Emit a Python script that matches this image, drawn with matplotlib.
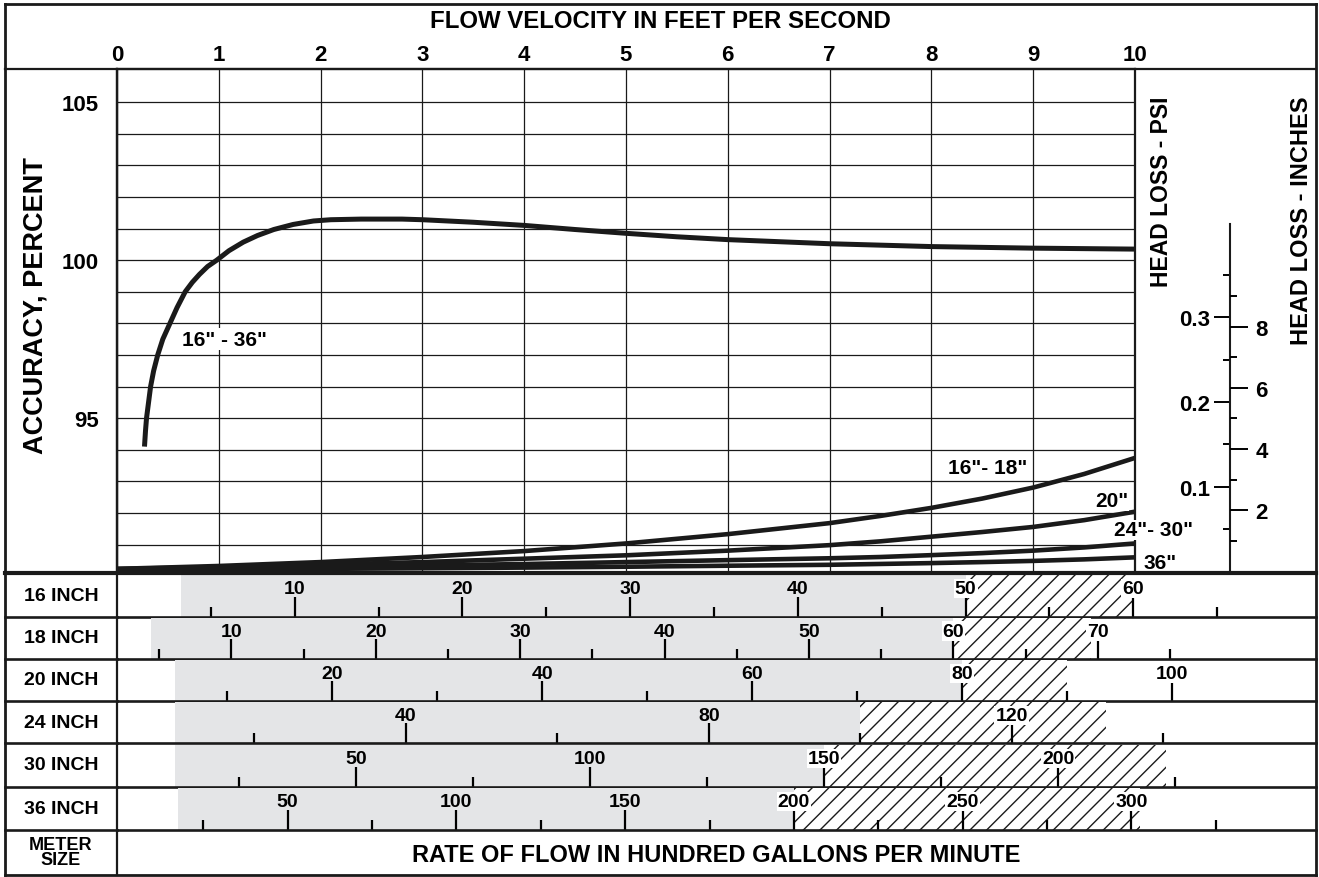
import numpy as np
import matplotlib
matplotlib.use('Agg')
import matplotlib.pyplot as plt
from matplotlib.lines import Line2D

plt.rcParams['font.family'] = ['Liberation Sans Narrow', 'Liberation Sans', 'DejaVu Sans']
plt.rcParams['font.weight'] = 'bold'
plt.rcParams['hatch.linewidth'] = 1.0

W, H = 1319, 878

# ---- data ----
velocity_ticks = list(range(0, 11))
accuracy_major = [95, 100, 105]
accuracy_minor = list(range(91, 106))

# accuracy curve, 16" - 36"
acc_v = [0.27, 0.28, 0.29, 0.31, 0.33, 0.36, 0.40, 0.45, 0.52, 0.59, 0.67, 0.74, 0.81, 0.89,
         0.98, 1.1, 1.24, 1.38, 1.54, 1.73, 1.93, 2.1, 2.4, 2.8, 3.0, 3.5, 4.0, 4.5,
         5.0, 5.5, 6.0, 7.0, 8.0, 9.0, 10.0]
acc_pct = [94.1, 94.6, 95.0, 95.5, 96.0, 96.5, 97.0, 97.5, 98.0, 98.5, 99.0, 99.3, 99.55, 99.8,
           100.0, 100.3, 100.57, 100.78, 100.97, 101.13, 101.24, 101.28, 101.3, 101.3, 101.28, 101.2, 101.1, 100.97,
           100.85, 100.74, 100.65, 100.52, 100.43, 100.38, 100.35]

# head loss curves (psi)
hl_v = [0, 1, 2, 3, 4, 5, 6, 7, 7.5, 8, 8.5, 9, 9.5, 10]
hl_16_18 = [0.003, 0.0064, 0.011, 0.017, 0.024, 0.033, 0.044, 0.057, 0.0655, 0.075, 0.086, 0.099, 0.115, 0.134]
hl_20 = [0.003, 0.005, 0.008, 0.011, 0.015, 0.019, 0.0245, 0.031, 0.0355, 0.041, 0.0465, 0.0525, 0.0605, 0.0705]
hl_24_30 = [0.002, 0.004, 0.005, 0.007, 0.0087, 0.011, 0.0133, 0.0155, 0.017, 0.0192, 0.0216, 0.0245, 0.0283, 0.033]
hl_36 = [0.002, 0.0025, 0.003, 0.0037, 0.0045, 0.0055, 0.0067, 0.0078, 0.0088, 0.0098, 0.011, 0.0124, 0.0142, 0.0166]

psi_major = [0.1, 0.2, 0.3]
psi_minor = [0.05, 0.15, 0.25, 0.35]
inch_major = [2, 4, 6, 8]
inch_minor = [1, 3, 5, 7, 9]
PSI_PER_INCH = 0.036127

meter_sizes = ['16 INCH', '18 INCH', '20 INCH', '24 INCH', '30 INCH', '36 INCH']
# flow scale (hundred gpm) at left and right edge of the table
flow_left = [-0.6, 2.08, -0.51, 1.85, -1.07, -0.56]
flow_right = [70.9, 85.1, 113.7, 160.2, 255.1, 354.7]
major_ticks = [[10, 20, 30, 40, 50, 60],
               [10, 20, 30, 40, 50, 60, 70],
               [20, 40, 60, 80, 100],
               [40, 80, 120],
               [50, 100, 150, 200],
               [50, 100, 150, 200, 250, 300]]
minor_ticks = [[5, 15, 25, 35, 45, 55, 65],
               [5, 15, 25, 35, 45, 55, 65, 75],
               [10, 30, 50, 70, 90],
               [20, 60, 100, 140],
               [25, 75, 125, 175, 225],
               [25, 75, 125, 175, 225, 275, 325]]
grey_start = [3.2, 4.4, 5.0, 9.5, 11.3, 17.5]
hatch_start = [50, 60, 80, 100, 150, 200]
hatch_end = [60, 69.5, 90, 132.5, 223, 302.5]

# ---- layout (pixels) ----
row_edges = [575, 617.7, 660, 702, 744.3, 787.7, 831]
X0, XV, X10, XR = 5, 117, 1135, 1316
YT, YH, YP, YB = 5, 70, 572.4, 875.5
INK = '#1a1a1a'
GREY = '#e4e5e7'


def box(x0, y0, x1, y1):
    return [x0 / W, 1 - y1 / H, (x1 - x0) / W, (y1 - y0) / H]


def fline(xs, ys, lw):
    fig.add_artist(Line2D([x / W for x in xs], [1 - y / H for y in ys],
                          color=INK, lw=lw, solid_capstyle='projecting'))


fig = plt.figure(figsize=(W / 100, H / 100), dpi=100)

# ---- main accuracy plot ----
ax = fig.add_axes(box(XV, YH, X10, YP))
ax.set_xlim(0, 10)
ax.set_ylim(90.15, 106.05)
ax.set_xticks(velocity_ticks)
ax.xaxis.tick_top()
ax.tick_params(axis='x', length=0, pad=3, labelsize=16)
ax.set_yticks(accuracy_major)
ax.set_yticks(accuracy_minor, minor=True)
ax.tick_params(axis='y', which='both', length=0, pad=13, labelsize=16)
ax.grid(True, which='both', color=INK, lw=0.9)
ax.set_axisbelow(True)
for s in ['left', 'right', 'top']:
    ax.spines[s].set_linewidth(1.6)
    ax.spines[s].set_color(INK)
ax.spines['bottom'].set_visible(False)
ax.plot(acc_v, acc_pct, color=INK, lw=3.6, solid_capstyle='butt', solid_joinstyle='round', zorder=3)
ax.text(1.06, 97.5, '16" - 36"', fontsize=15, ha='center', va='center',
        bbox=dict(facecolor='white', edgecolor='none', pad=1), zorder=4)

# head loss curves on psi scale
ax2 = ax.twinx()
ax2.set_ylim(0, (YP - YH) / 847)
ax2.axis('off')
for ys in [hl_16_18, hl_20, hl_24_30, hl_36]:
    ax2.plot(hl_v, ys, color=INK, lw=3.3, solid_capstyle='butt', solid_joinstyle='round', zorder=3)
lab_kw = dict(fontsize=15, ha='center', va='center', zorder=5, clip_on=False,
              bbox=dict(facecolor='white', edgecolor='none', pad=0.5))
ax2.text(8.55, 0.123, '16"- 18"', **lab_kw)
ax2.text(9.77, 0.0835, '20"', **lab_kw)
ax2.text(10.18, 0.049, '24"- 30"', **lab_kw)
ax2.text(10.25, 0.011, '36"', **lab_kw)

# ---- head loss scales ----
top_psi = (YP - 225) / 847
axp = fig.add_axes(box(1230, 225, 1230.3, YP))
axp.set_ylim(0, top_psi)
axp.set_xticks([])
for s in ['right', 'top', 'bottom']:
    axp.spines[s].set_visible(False)
axp.spines['left'].set_linewidth(1.5)
axp.spines['left'].set_color(INK)
axp.set_yticks(psi_major)
axp.set_yticklabels(['0.1', '0.2', '0.3'])
axp.set_yticks(psi_minor, minor=True)
axp.tick_params(axis='y', which='major', direction='out', length=11.5, width=1.4, pad=3, labelsize=16)
axp.tick_params(axis='y', which='minor', direction='out', length=5, width=1.4)
axp.patch.set_visible(False)

axi = axp.twinx()
axi.set_ylim(0, top_psi / PSI_PER_INCH)
for s in ['left', 'top', 'bottom', 'right']:
    axi.spines[s].set_visible(False)
axi.set_yticks(inch_major)
axi.set_yticks(inch_minor, minor=True)
axi.tick_params(axis='y', which='major', direction='out', length=13, width=1.4, pad=5, labelsize=16)
axi.tick_params(axis='y', which='minor', direction='out', length=5, width=1.4)

fig.text(1161.7 / W, 1 - 192 / H, 'HEAD LOSS - PSI', rotation=90, ha='center', va='center', fontsize=16.5)
fig.text(1301.7 / W, 1 - 221 / H, 'HEAD LOSS - INCHES', rotation=90, ha='center', va='center', fontsize=17)

# ---- meter size table ----
for i, name in enumerate(meter_sizes):
    y0, y1 = row_edges[i], row_edges[i + 1]
    r = fig.add_axes(box(XV, y0, XR, y1))
    r.set_xlim(flow_left[i], flow_right[i])
    r.set_ylim(0, 1)
    r.patch.set_visible(False)
    for s in ['left', 'right', 'top']:
        r.spines[s].set_visible(False)
    r.spines['bottom'].set_linewidth(1.9)
    r.spines['bottom'].set_color(INK)
    r.set_yticks([])
    r.axvspan(grey_start[i], hatch_start[i], ymin=0, ymax=0.97, facecolor=GREY, edgecolor='none', zorder=0)
    r.axvspan(hatch_start[i], hatch_end[i], ymin=0, ymax=0.97, facecolor='white', edgecolor=INK,
              hatch='//', linewidth=0, zorder=0)
    r.set_xticks(major_ticks[i])
    r.set_xticks(minor_ticks[i], minor=True)
    r.set_xticklabels([])
    r.tick_params(axis='x', which='major', direction='in', length=14.5, width=1.6)
    r.tick_params(axis='x', which='minor', direction='in', length=7, width=1.6)
    tr = r.get_xaxis_transform()
    for q in major_ticks[i]:
        kw = {}
        if q >= hatch_start[i]:
            kw['bbox'] = dict(facecolor='white', edgecolor='none', pad=0.8)
        r.text(q, 0.46, str(q), transform=tr, ha='center', va='bottom', fontsize=14, zorder=4, **kw)
    fig.text((X0 + XV) / 2 / W, 1 - (y0 + y1) / 2 / H, name, ha='center', va='center', fontsize=14)
    fline([X0, XV], [y1, y1], 1.9)

fig.text((X0 + XV) / 2 / W, 1 - 853 / H, 'METER\nSIZE', ha='center', va='center',
         fontsize=13, linespacing=0.8)
fig.text((XV + XR) / 2 / W, 1 - 856 / H, 'RATE OF FLOW IN HUNDRED GALLONS PER MINUTE',
         ha='center', va='center', fontsize=17)
fig.text((X0 + XR) / 2 / W, 1 - 21 / H, 'FLOW VELOCITY IN FEET PER SECOND',
         ha='center', va='center', fontsize=17.3)
fig.text(36 / W, 1 - 306 / H, 'ACCURACY, PERCENT', rotation=90, ha='center', va='center', fontsize=19.5)

# ---- frame lines ----
fline([X0, XR], [YT, YT], 2.0)
fline([X0, XR], [YB, YB], 2.0)
fline([X0, X0], [YT, YB], 2.0)
fline([XR, XR], [YT, YB], 2.0)
fline([X0, XR], [YH, YH], 1.6)
fline([XV, XV], [YH, YB], 1.6)
fline([X0, XR], [573.5, 573.5], 3.0)

fig.savefig('out.png', dpi=100)
